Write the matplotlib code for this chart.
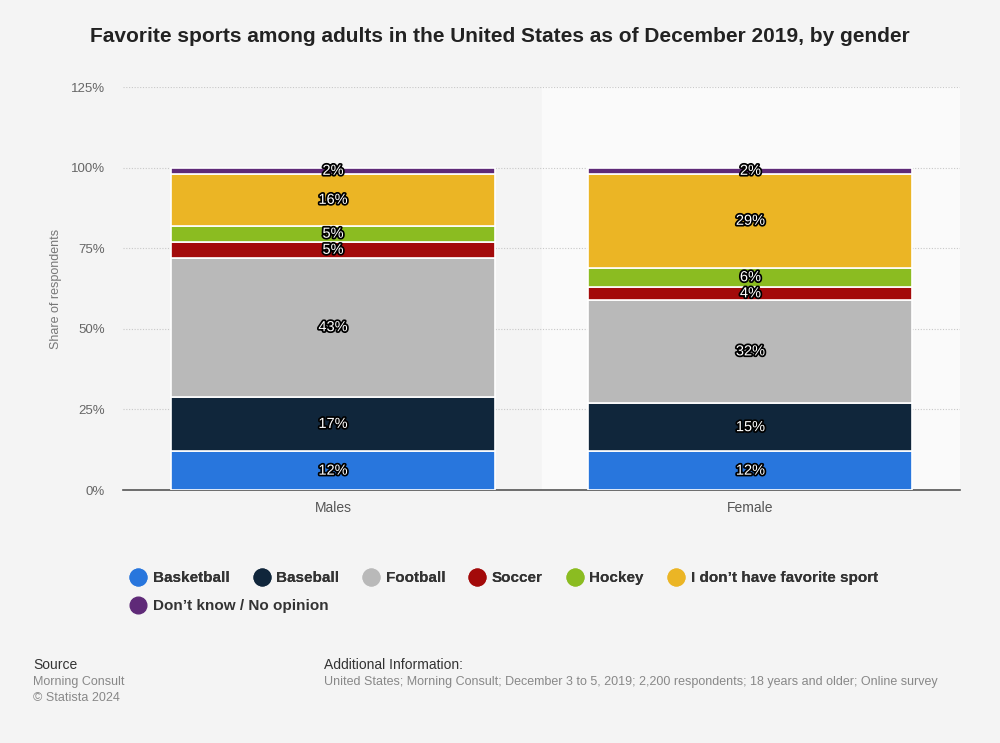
import numpy as np
import matplotlib
matplotlib.use("Agg")
import matplotlib.pyplot as plt
import matplotlib.patheffects as pe
from matplotlib.lines import Line2D

plt.rcParams['font.family'] = ['Liberation Sans', 'DejaVu Sans']

# data
groups = ["Males", "Female"]
sports = ["Basketball", "Baseball", "Football", "Soccer", "Hockey",
          "I don\u2019t have favorite sport", "Don\u2019t know / No opinion"]
males = [12, 17, 43, 5, 5, 16, 2]
female = [12, 15, 32, 4, 6, 29, 2]
colors = ["#2876dd", "#10263b", "#b9b9b9", "#a30a0a", "#8bbc21", "#ebb525", "#5f2a78"]
yticks = [0, 25, 50, 75, 100, 125]

bg = "#f4f4f4"
fig = plt.figure(figsize=(10, 7.43), dpi=100, facecolor=bg)
ax = fig.add_axes([0.123, 0.3405, 0.837, 0.5424])
ax.set_facecolor(bg)

# shaded background behind second group
ax.axvspan(0.5, 1.5, color="#fafafa", zorder=0)

x = np.arange(len(groups))
values = np.array([males, female])
bottoms = np.zeros(len(groups))
width = 0.776
for i, sport in enumerate(sports):
    vals = values[:, i]
    ax.bar(x, vals, width, bottom=bottoms, color=colors[i],
           edgecolor="white", linewidth=1.2, zorder=3)
    for xi, v, b in zip(x, vals, bottoms):
        t = ax.text(xi, b + v / 2, f"{v}%", ha="center", va="center",
                    color="white", fontsize=10.5, zorder=5)
        t.set_path_effects([pe.withStroke(linewidth=2.5, foreground="black")])
    bottoms += vals

ax.set_xlim(-0.503, 1.502)
ax.set_ylim(0, 125)
ax.set_yticks(yticks)
ax.set_yticklabels([f"{t}%" for t in yticks], color="#666666", fontsize=9.5)
ax.set_xticks(x)
ax.set_xticklabels(groups, color="#555555", fontsize=10)
ax.tick_params(axis="y", length=0, pad=13)
ax.tick_params(axis="x", length=0, pad=8)
ax.grid(axis="y", color="#c8c8c8", linestyle=(0, (1, 1.5)), linewidth=0.8, zorder=1)
for s in ["top", "right", "left"]:
    ax.spines[s].set_visible(False)
ax.spines["bottom"].set_color("#555555")
ax.spines["bottom"].set_linewidth(1.2)
ax.set_ylabel("Share of respondents", color="#777777", fontsize=9, labelpad=6)

fig.text(0.5, 0.951, "Favorite sports among adults in the United States as of December 2019, by gender",
         ha="center", va="center", fontsize=15, fontweight="bold", color="#222222")

# legend
handles = [Line2D([], [], marker="o", linestyle="", markersize=12,
                  markerfacecolor=c, markeredgecolor=c) for c in colors]
leg_font = {"weight": "bold", "size": 11}
leg1 = fig.legend(handles[:6], sports[:6], loc="upper left", bbox_to_anchor=(0.113, 0.250),
                  ncol=6, frameon=False, handletextpad=0.2, columnspacing=1.35,
                  handlelength=1.5, prop=leg_font, labelcolor="#333333")
fig.add_artist(leg1)
fig.legend(handles[6:], sports[6:], loc="upper left", bbox_to_anchor=(0.113, 0.212),
           frameon=False, handletextpad=0.2, handlelength=1.5,
           prop=leg_font, labelcolor="#333333")

# footer
fig.text(0.033, 0.105, "Source", fontsize=10, color="#333333", va="center")
fig.text(0.033, 0.082, "Morning Consult", fontsize=9, color="#888888", va="center")
fig.text(0.033, 0.060, "\u00a9 Statista 2024", fontsize=9, color="#888888", va="center")
fig.text(0.324, 0.105, "Additional Information:", fontsize=10, color="#333333", va="center")
fig.text(0.324, 0.082, "United States; Morning Consult; December 3 to 5, 2019; 2,200 respondents; 18 years and older; Online survey",
         fontsize=9, color="#888888", va="center")

fig.savefig("out.png", dpi=100, facecolor=bg)
